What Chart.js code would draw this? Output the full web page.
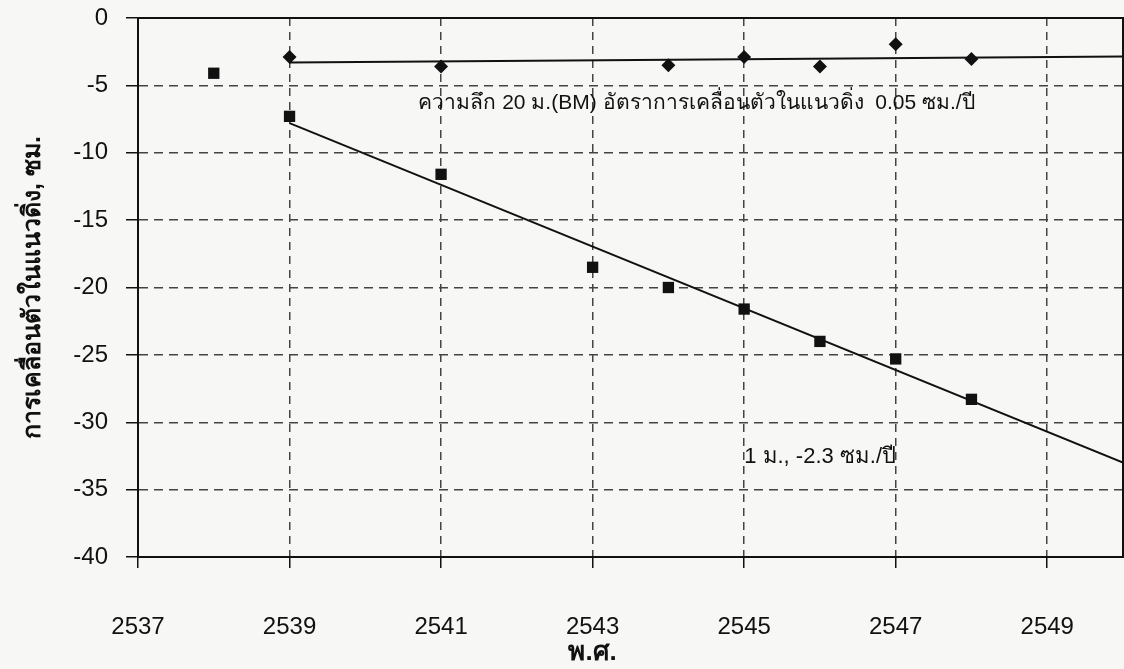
<!DOCTYPE html>
<html>
<head>
<meta charset="utf-8">
<script src="https://cdn.jsdelivr.net/npm/chart.js@4.4.1/dist/chart.umd.min.js"></script>
<style>
  html, body { margin: 0; padding: 0; background: #f7f7f5; }
  canvas { display: block; }
</style>
</head>
<body>
<canvas id="chart" width="1124" height="669"></canvas>
<script>
// ความลึก 20 ม. (BM) - diamonds
const yearsBM = [2539, 2541, 2544, 2545, 2546, 2547, 2548];
const valuesBM = [-2.9, -3.6, -3.5, -2.9, -3.6, -1.95, -3.05];

// 1 ม. - squares
const years1m = [2538, 2539, 2541, 2543, 2544, 2545, 2546, 2547, 2548];
const values1m = [-4.1, -7.3, -11.6, -18.5, -20.0, -21.6, -24.0, -25.3, -28.3];

// trend lines (end points)
const trendYears = [2539, 2550];
const trendBM = [-3.3, -2.85];
const trend1m = [-7.8, -33.0];

const xTicks = [2537, 2539, 2541, 2543, 2545, 2547, 2549];
const yTicks = [-40, -35, -30, -25, -20, -15, -10, -5, 0];

const yTitle = 'การเคลื่อนตัวในแนวดิ่ง, ซม.';
const xTitle = 'พ.ศ.';
const noteBM = 'ความลึก 20 ม.(BM) อัตราการเคลื่อนตัวในแนวดิ่ง  0.05 ซม./ปี';
const note1m = '1 ม., -2.3 ซม./ปี';

const pts = (xs, ys) => xs.map((x, i) => ({x: x, y: ys[i]}));

const FONT = '"Liberation Sans", Arial, sans-serif';

const extras = {
    id: 'extras',
    afterDraw(chart) {
        const ctx = chart.ctx;
        const a = chart.chartArea;
        const xs = chart.scales.x, ys = chart.scales.y;
        ctx.save();
        // plot frame
        ctx.strokeStyle = '#111';
        ctx.lineWidth = 2;
        ctx.strokeRect(a.left, a.top, a.right - a.left, a.bottom - a.top);
        ctx.fillStyle = '#111';
        ctx.textBaseline = 'middle';
        ctx.textAlign = 'left';
        ctx.font = '21px ' + FONT;
        ctx.fillText(noteBM, xs.getPixelForValue(2540.7), ys.getPixelForValue(-6.3));
        ctx.font = '22px ' + FONT;
        ctx.fillText(note1m, xs.getPixelForValue(2545.0), ys.getPixelForValue(-32.6));
        // x title, under 2543
        ctx.textAlign = 'center';
        ctx.font = 'bold 26px ' + FONT;
        ctx.fillText(xTitle, xs.getPixelForValue(2543), 653);
        ctx.restore();
    }
};

const gridOpts = {
    color: '#444',
    lineWidth: 1.5,
    tickColor: '#111',
    tickWidth: 1.5,
    tickLength: 12
};

new Chart(document.getElementById('chart').getContext('2d'), {
    type: 'scatter',
    data: {
        datasets: [
            {
                label: 'BM',
                data: pts(yearsBM, valuesBM),
                pointStyle: 'rectRot',
                pointRadius: 7,
                backgroundColor: '#111',
                borderColor: '#111',
                borderWidth: 0
            },
            {
                label: '1 m',
                data: pts(years1m, values1m),
                pointStyle: 'rect',
                pointRadius: 8,
                backgroundColor: '#111',
                borderColor: '#111',
                borderWidth: 0
            },
            {
                label: 'trend BM',
                type: 'line',
                data: pts(trendYears, trendBM),
                borderColor: '#111',
                borderWidth: 2,
                pointRadius: 0,
                fill: false
            },
            {
                label: 'trend 1m',
                type: 'line',
                data: pts(trendYears, trend1m),
                borderColor: '#111',
                borderWidth: 2,
                pointRadius: 0,
                fill: false
            }
        ]
    },
    options: {
        responsive: false,
        animation: false,
        layout: {autoPadding: false, padding: {top: 18, right: 1, left: 0, bottom: 0}},
        plugins: {legend: {display: false}, tooltip: {enabled: false}},
        scales: {
            x: {
                type: 'linear',
                min: 2537,
                max: 2550,
                afterBuildTicks: s => { s.ticks = xTicks.map(v => ({value: v})); },
                afterFit: s => { s.height = 112; s.paddingLeft = 0; s.paddingRight = 0; },
                grid: Object.assign({}, gridOpts, {tickLength: 11}),
                border: {display: true, color: '#111', width: 2, dash: [8, 6]},
                ticks: {
                    color: '#111',
                    padding: 45,
                    font: {family: FONT, size: 24},
                    callback: v => String(v)
                }
            },
            y: {
                min: -40,
                max: 0,
                afterBuildTicks: s => { s.ticks = yTicks.map(v => ({value: v})); },
                afterFit: s => { s.width = 138; s.paddingTop = 0; s.paddingBottom = 0; },
                grid: gridOpts,
                border: {display: true, color: '#111', width: 2, dash: [9, 6]},
                ticks: {
                    color: '#111',
                    padding: 18,
                    font: {family: FONT, size: 24}
                },
                title: {
                    display: true,
                    text: yTitle,
                    color: '#111',
                    padding: {top: 18},
                    font: {family: FONT, size: 25, weight: 'bold'}
                }
            }
        }
    },
    plugins: [extras]
});
</script>
</body>
</html>
